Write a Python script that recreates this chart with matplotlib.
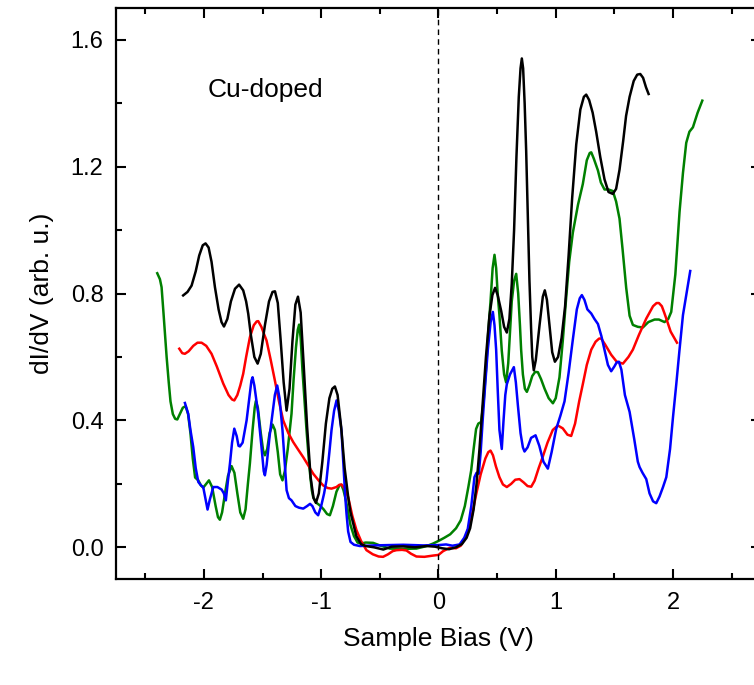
import numpy as np
import matplotlib.pyplot as plt

plt.rcParams['font.family'] = ['Liberation Sans', 'DejaVu Sans']
plt.rcParams['axes.unicode_minus'] = False

# ---------------- data ----------------
black_v = [-2.177, -2.14, -2.105, -2.07, -2.04, -2.01, -1.986, -1.96, -1.935, -1.906,
           -1.875, -1.85, -1.829, -1.80, -1.77, -1.735, -1.70, -1.665, -1.64, -1.622,
           -1.60, -1.57, -1.542, -1.515, -1.48, -1.445, -1.415, -1.394, -1.37, -1.345,
           -1.32, -1.295, -1.27, -1.245, -1.22, -1.198, -1.175, -1.15, -1.12, -1.09,
           -1.065, -1.045, -1.02, -0.99, -0.96, -0.93, -0.905, -0.883, -0.86, -0.83,
           -0.80, -0.77, -0.75, -0.70, -0.66, -0.62, -0.55, -0.47, -0.40, -0.30,
           -0.20, -0.10, -0.03, 0.03, 0.09, 0.15, 0.20, 0.24, 0.27, 0.30,
           0.325, 0.35, 0.378, 0.405, 0.435, 0.46, 0.483, 0.505, 0.535, 0.56,
           0.583, 0.605, 0.625, 0.645, 0.665, 0.685, 0.70, 0.711, 0.722, 0.735,
           0.748, 0.762, 0.776, 0.79, 0.80, 0.813, 0.83, 0.862, 0.89, 0.907,
           0.925, 0.947, 0.97, 0.993, 1.02, 1.05, 1.08, 1.11, 1.14, 1.175,
           1.21, 1.24, 1.26, 1.285, 1.315, 1.345, 1.38, 1.416, 1.45, 1.487,
           1.515, 1.544, 1.575, 1.60, 1.63, 1.665, 1.695, 1.721, 1.745, 1.77,
           1.792]
black_g = [0.794, 0.805, 0.825, 0.87, 0.92, 0.952, 0.958, 0.945, 0.90, 0.82,
           0.75, 0.71, 0.696, 0.72, 0.775, 0.815, 0.828, 0.81, 0.775, 0.736,
           0.67, 0.60, 0.579, 0.61, 0.70, 0.775, 0.805, 0.807, 0.77, 0.65,
           0.52, 0.431, 0.50, 0.65, 0.765, 0.790, 0.74, 0.58, 0.38, 0.22,
           0.155, 0.140, 0.17, 0.27, 0.39, 0.47, 0.50, 0.507, 0.48, 0.38,
           0.25, 0.16, 0.11, 0.035, 0.01, 0.004, 0.000, -0.007, 0.002, 0.003,
           0.000, 0.004, 0.002, -0.003, -0.006, 0.000, 0.010, 0.030, 0.06, 0.12,
           0.20, 0.31, 0.46, 0.60, 0.73, 0.795, 0.818, 0.795, 0.745, 0.695,
           0.677, 0.72, 0.83, 1.00, 1.23, 1.42, 1.51, 1.541, 1.51, 1.40,
           1.25, 1.04, 0.84, 0.69, 0.60, 0.558, 0.59, 0.70, 0.79, 0.81,
           0.78, 0.70, 0.615, 0.585, 0.60, 0.66, 0.76, 0.92, 1.10, 1.27,
           1.38, 1.42, 1.427, 1.41, 1.37, 1.31, 1.23, 1.16, 1.12, 1.114,
           1.13, 1.19, 1.28, 1.36, 1.42, 1.47, 1.49, 1.492, 1.48, 1.45,
           1.429]

green_v = [-2.398, -2.375, -2.361, -2.345, -2.33, -2.318, -2.30, -2.285, -2.265, -2.245,
           -2.227, -2.205, -2.18, -2.156, -2.135, -2.115, -2.095, -2.075, -2.048, -2.025,
           -2.006, -1.98, -1.957, -1.93, -1.90, -1.88, -1.864, -1.845, -1.82, -1.795,
           -1.764, -1.74, -1.715, -1.69, -1.665, -1.645, -1.625, -1.608, -1.585, -1.567,
           -1.557, -1.54, -1.515, -1.495, -1.480, -1.46, -1.44, -1.415, -1.395, -1.37,
           -1.35, -1.330, -1.31, -1.285, -1.265, -1.253, -1.235, -1.215, -1.20, -1.188,
           -1.175, -1.16, -1.14, -1.125, -1.10, -1.08, -1.068, -1.04, -1.011, -0.98,
           -0.95, -0.926, -0.90, -0.87, -0.845, -0.827, -0.81, -0.79, -0.77, -0.75,
           -0.72, -0.69, -0.66, -0.62, -0.557, -0.50, -0.415, -0.30, -0.188, -0.10,
           -0.045, 0.0, 0.05, 0.10, 0.15, 0.19, 0.225, 0.255, 0.279, 0.30,
           0.321, 0.34, 0.364, 0.385, 0.407, 0.425, 0.444, 0.462, 0.478, 0.492,
           0.505, 0.52, 0.54, 0.56, 0.577, 0.595, 0.61, 0.625, 0.645, 0.663,
           0.68, 0.695, 0.705, 0.72, 0.737, 0.754, 0.775, 0.80, 0.825, 0.848,
           0.875, 0.905, 0.94, 0.976, 1.0, 1.032, 1.06, 1.089, 1.115, 1.146,
           1.19, 1.231, 1.265, 1.29, 1.303, 1.325, 1.36, 1.385, 1.416, 1.45,
           1.487, 1.515, 1.544, 1.57, 1.601, 1.63, 1.658, 1.70, 1.743, 1.79,
           1.843, 1.88, 1.928, 1.96, 1.985, 2.02, 2.056, 2.085, 2.113, 2.14,
           2.17, 2.21, 2.25]
green_g = [0.864, 0.845, 0.820, 0.74, 0.66, 0.60, 0.52, 0.46, 0.42, 0.405,
           0.403, 0.42, 0.44, 0.445, 0.42, 0.36, 0.28, 0.22, 0.211, 0.195,
           0.188, 0.20, 0.211, 0.19, 0.13, 0.095, 0.087, 0.11, 0.17, 0.225,
           0.256, 0.235, 0.17, 0.11, 0.090, 0.12, 0.20, 0.264, 0.37, 0.44,
           0.461, 0.44, 0.36, 0.305, 0.290, 0.31, 0.36, 0.387, 0.37, 0.30,
           0.23, 0.211, 0.24, 0.31, 0.38, 0.421, 0.53, 0.63, 0.685, 0.702,
           0.66, 0.56, 0.45, 0.369, 0.25, 0.18, 0.158, 0.14, 0.132, 0.12,
           0.105, 0.101, 0.13, 0.175, 0.195, 0.197, 0.18, 0.15, 0.11, 0.07,
           0.035, 0.015, 0.012, 0.015, 0.014, 0.006, -0.004, -0.005, -0.004, 0.004,
           0.012, 0.02, 0.03, 0.041, 0.06, 0.085, 0.13, 0.19, 0.242, 0.31,
           0.373, 0.39, 0.395, 0.46, 0.568, 0.68, 0.775, 0.88, 0.922, 0.88,
           0.80, 0.732, 0.62, 0.545, 0.52, 0.58, 0.68, 0.775, 0.84, 0.862,
           0.80, 0.70, 0.623, 0.545, 0.50, 0.49, 0.51, 0.54, 0.553, 0.552,
           0.53, 0.50, 0.47, 0.454, 0.47, 0.536, 0.65, 0.786, 0.90, 0.992,
           1.08, 1.145, 1.22, 1.243, 1.245, 1.225, 1.188, 1.15, 1.128, 1.128,
           1.123, 1.09, 1.036, 0.94, 0.818, 0.73, 0.701, 0.695, 0.693, 0.71,
           0.718, 0.718, 0.71, 0.72, 0.742, 0.86, 1.058, 1.18, 1.275, 1.31,
           1.324, 1.37, 1.408]

red_v = [-2.210, -2.185, -2.162, -2.13, -2.091, -2.055, -2.020, -1.98, -1.935, -1.89,
         -1.835, -1.79, -1.76, -1.741, -1.715, -1.69, -1.665, -1.64, -1.608, -1.575,
         -1.550, -1.537, -1.51, -1.485, -1.466, -1.43, -1.395, -1.36, -1.324, -1.28,
         -1.239, -1.20, -1.153, -1.11, -1.068, -1.02, -0.983, -0.945, -0.912, -0.87,
         -0.845, -0.827, -0.80, -0.770, -0.735, -0.699, -0.66, -0.614, -0.56, -0.51,
         -0.472, -0.43, -0.39, -0.358, -0.31, -0.273, -0.235, -0.188, -0.12, -0.045,
         0.0, 0.04, 0.094, 0.15, 0.19, 0.236, 0.28, 0.321, 0.36, 0.40,
         0.425, 0.444, 0.465, 0.49, 0.52, 0.55, 0.583, 0.62, 0.655, 0.691,
         0.725, 0.76, 0.791, 0.82, 0.855, 0.89, 0.93, 0.975, 1.018, 1.06,
         1.10, 1.132, 1.165, 1.20, 1.231, 1.265, 1.303, 1.34, 1.37, 1.388,
         1.42, 1.473, 1.52, 1.573, 1.62, 1.658, 1.71, 1.772, 1.83, 1.86,
         1.88, 1.905, 1.925, 1.943, 1.98, 2.034]
red_g = [0.626, 0.612, 0.610, 0.618, 0.635, 0.645, 0.645, 0.635, 0.610, 0.57,
         0.516, 0.48, 0.466, 0.463, 0.48, 0.51, 0.547, 0.60, 0.662, 0.70,
         0.712, 0.713, 0.695, 0.67, 0.652, 0.59, 0.526, 0.46, 0.400, 0.36,
         0.332, 0.31, 0.284, 0.258, 0.232, 0.21, 0.195, 0.187, 0.185, 0.19,
         0.197, 0.198, 0.185, 0.158, 0.10, 0.054, 0.02, -0.009, -0.022, -0.029,
         -0.030, -0.022, -0.012, -0.009, -0.008, -0.010, -0.02, -0.029, -0.030, -0.026,
         -0.024, -0.012, -0.002, -0.003, 0.005, 0.036, 0.09, 0.166, 0.23, 0.28,
         0.30, 0.305, 0.29, 0.255, 0.221, 0.198, 0.19, 0.20, 0.213, 0.215,
         0.205, 0.193, 0.191, 0.21, 0.25, 0.286, 0.33, 0.37, 0.384, 0.375,
         0.355, 0.351, 0.39, 0.46, 0.514, 0.575, 0.623, 0.648, 0.658, 0.658,
         0.64, 0.607, 0.585, 0.579, 0.60, 0.623, 0.67, 0.721, 0.76, 0.77,
         0.77, 0.76, 0.74, 0.721, 0.68, 0.645]

blue_v = [-2.162, -2.145, -2.134, -2.115, -2.091, -2.07, -2.048, -2.025, -2.006, -1.985,
          -1.969, -1.95, -1.92, -1.885, -1.849, -1.83, -1.813, -1.795, -1.778, -1.76,
          -1.741, -1.72, -1.705, -1.693, -1.67, -1.636, -1.61, -1.595, -1.585, -1.57,
          -1.555, -1.537, -1.51, -1.490, -1.480, -1.465, -1.44, -1.415, -1.395, -1.375,
          -1.355, -1.340, -1.330, -1.31, -1.295, -1.275, -1.253, -1.22, -1.19, -1.153,
          -1.12, -1.095, -1.075, -1.05, -1.026, -1.0, -0.975, -0.955, -0.93, -0.912,
          -0.89, -0.869, -0.85, -0.827, -0.81, -0.795, -0.784, -0.77, -0.75, -0.72,
          -0.67, -0.55, -0.415, -0.30, -0.131, 0.0, 0.065, 0.12, 0.18, 0.22,
          0.25, 0.28, 0.307, 0.325, 0.344, 0.36, 0.378, 0.40, 0.421, 0.445,
          0.464, 0.478, 0.492, 0.505, 0.52, 0.54, 0.555, 0.57, 0.583, 0.61,
          0.643, 0.66, 0.677, 0.70, 0.72, 0.734, 0.76, 0.79, 0.828, 0.86,
          0.895, 0.933, 0.965, 1.004, 1.04, 1.075, 1.11, 1.146, 1.18, 1.205,
          1.223, 1.245, 1.27, 1.303, 1.33, 1.36, 1.39, 1.416, 1.445, 1.473,
          1.50, 1.52, 1.539, 1.56, 1.59, 1.63, 1.67, 1.70, 1.715, 1.74,
          1.772, 1.80, 1.83, 1.857, 1.885, 1.915, 1.943, 1.975, 2.0, 2.028,
          2.055, 2.085, 2.115, 2.147]
blue_g = [0.455, 0.435, 0.421, 0.37, 0.316, 0.25, 0.206, 0.195, 0.190, 0.15,
          0.119, 0.15, 0.19, 0.19, 0.182, 0.17, 0.148, 0.21, 0.264, 0.33,
          0.374, 0.35, 0.32, 0.318, 0.33, 0.40, 0.48, 0.525, 0.536, 0.51,
          0.47, 0.421, 0.32, 0.24, 0.227, 0.26, 0.35, 0.421, 0.48, 0.510,
          0.47, 0.41, 0.369, 0.26, 0.180, 0.155, 0.148, 0.13, 0.125, 0.122,
          0.13, 0.137, 0.13, 0.11, 0.101, 0.13, 0.17, 0.211, 0.30, 0.369,
          0.43, 0.463, 0.43, 0.369, 0.26, 0.16, 0.106, 0.05, 0.017, 0.008,
          0.004, 0.006, 0.007, 0.008, 0.006, 0.007, 0.009, 0.005, 0.009, 0.03,
          0.058, 0.13, 0.221, 0.235, 0.232, 0.30, 0.405, 0.52, 0.623, 0.71,
          0.742, 0.70, 0.623, 0.50, 0.37, 0.31, 0.40, 0.48, 0.514, 0.545,
          0.568, 0.52, 0.449, 0.36, 0.315, 0.302, 0.315, 0.345, 0.353, 0.32,
          0.27, 0.248, 0.30, 0.373, 0.415, 0.46, 0.55, 0.655, 0.75, 0.785,
          0.795, 0.78, 0.75, 0.737, 0.72, 0.704, 0.665, 0.623, 0.575, 0.555,
          0.57, 0.583, 0.585, 0.56, 0.48, 0.427, 0.34, 0.27, 0.253, 0.235,
          0.215, 0.17, 0.145, 0.139, 0.16, 0.19, 0.221, 0.31, 0.41, 0.514,
          0.62, 0.732, 0.80, 0.871]

# ---------------- plot ----------------
fig = plt.figure(figsize=(7.54, 6.85), dpi=100)
ax = fig.add_axes([0.1538, 0.1547, 0.8554, 0.8336])

lw = 1.8
ax.plot(green_v, green_g, color='#008000', lw=lw)
ax.plot(red_v, red_g, color='#ff0000', lw=lw)
ax.plot(blue_v, blue_g, color='#0000ff', lw=lw)
ax.plot(black_v, black_g, color='black', lw=lw)
ax.axvline(0, color='black', lw=1.0, ls=(0, (4, 3)))

ax.text(-1.97, 1.44, 'Cu-doped', fontsize=19, ha='left', va='center')

ax.set_xlim(-2.75, 2.75)
ax.set_ylim(-0.1, 1.7)
ax.set_xticks([-2, -1, 0, 1, 2])
ax.set_xticks(np.arange(-2.5, 2.6, 0.5), minor=True)
ax.set_yticks([0.0, 0.4, 0.8, 1.2, 1.6])
ax.set_yticks(np.arange(0.0, 1.61, 0.2), minor=True)
ax.set_yticklabels(['0.0', '0.4', '0.8', '1.2', '1.6'])
ax.tick_params(which='both', direction='in', top=True, right=True,
               width=1.5, labelsize=17)
ax.tick_params(which='major', length=7, pad=9)
ax.tick_params(which='minor', length=4)
for s in ax.spines.values():
    s.set_linewidth(1.6)

ax.set_xlabel('Sample Bias (V)', fontsize=19, labelpad=10)
ax.set_ylabel('dI/dV (arb. u.)', fontsize=19, labelpad=12)

fig.savefig('out.png', dpi=100)
